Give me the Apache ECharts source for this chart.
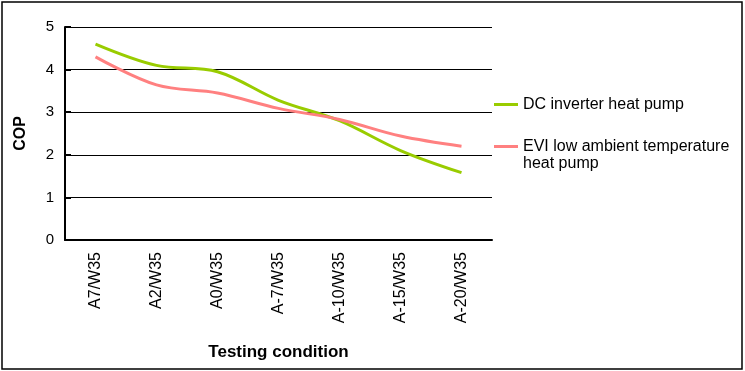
<!DOCTYPE html>
<html>
<head>
<meta charset="utf-8">
<script src="https://cdn.jsdelivr.net/npm/echarts@6/dist/echarts.min.js"></script>
<style>html,body{margin:0;padding:0;background:#fff;}#c{width:745px;height:371px;}</style>
</head>
<body>
<div id="c"></div>
<script>
const categories = ['A7/W35', 'A2/W35', 'A0/W35', 'A-7/W35', 'A-10/W35', 'A-15/W35', 'A-20/W35'];
const dcInverter = [4.6, 4.1, 3.95, 3.28, 2.8, 2.1, 1.58];
const eviLowAmbient = [4.3, 3.64, 3.45, 3.09, 2.83, 2.44, 2.2];
const yTicks = [0, 1, 2, 3, 4, 5];
const seriesNames = ['DC inverter heat pump', 'EVI low ambient temperature'];

const font = 'Arial, "Liberation Sans", sans-serif';
const chart = echarts.init(document.getElementById('c'), null, {renderer: 'canvas'});
chart.setOption({
  animation: false,
  backgroundColor: '#fff',
  grid: {left: 65, right: 253, top: 27, bottom: 131, containLabel: false},
  graphic: [{
    type: 'rect', shape: {x: 2, y: 2, width: 740, height: 367},
    style: {fill: 'none', stroke: '#000', lineWidth: 1.5}, z: 100
  }],
  legend: [{
    data: [seriesNames[0]], orient: 'vertical', left: 494, top: 96, padding: 0,
    itemWidth: 24, itemHeight: 3, icon: 'rect',
    textStyle: {fontFamily: font, fontSize: 16, color: '#000', lineHeight: 17}
  }, {
    data: [seriesNames[1]], orient: 'vertical', left: 494, top: 121, padding: 0,
    itemWidth: 24, itemHeight: 3, icon: 'rect',
    formatter: function (n) { return ' \n' + n + '\nheat pump'; },
    textStyle: {fontFamily: font, fontSize: 16, color: '#000', lineHeight: 17}
  }],
  xAxis: {
    type: 'category', data: categories, boundaryGap: true,
    name: 'Testing condition', nameLocation: 'middle', nameGap: 104,
    nameTextStyle: {fontFamily: font, fontSize: 17, fontWeight: 'bold', color: '#000'},
    axisLine: {lineStyle: {color: '#000', width: 2}},
    axisTick: {inside: true, length: 7, lineStyle: {color: '#000', width: 2}, interval: 0},
    axisLabel: {rotate: 90, margin: 12, fontFamily: font, fontSize: 16, color: '#000', interval: 0}
  },
  yAxis: {
    type: 'value', min: 0, max: 5, interval: 1,
    name: 'COP', nameLocation: 'middle', nameGap: 36,
    nameTextStyle: {fontFamily: font, fontSize: 16, fontWeight: 'bold', color: '#000'},
    axisLine: {show: true, lineStyle: {color: '#000', width: 2}},
    axisTick: {show: true, inside: true, length: 6, lineStyle: {color: '#000', width: 2}},
    axisLabel: {margin: 11, fontFamily: font, fontSize: 15, color: '#000',
      formatter: function (v) { return yTicks.indexOf(v) >= 0 ? String(v) : ''; }},
    splitLine: {show: true, lineStyle: {color: '#000', width: 1}}
  },
  series: [{
    name: seriesNames[0], type: 'line', data: dcInverter, smooth: 0.35,
    symbol: 'none', showSymbol: false,
    lineStyle: {color: '#99CC00', width: 3}, itemStyle: {color: '#99CC00'}
  }, {
    name: seriesNames[1], type: 'line', data: eviLowAmbient, smooth: 0.35,
    symbol: 'none', showSymbol: false,
    lineStyle: {color: '#FF8080', width: 3}, itemStyle: {color: '#FF8080'}
  }]
});
</script>
</body>
</html>
